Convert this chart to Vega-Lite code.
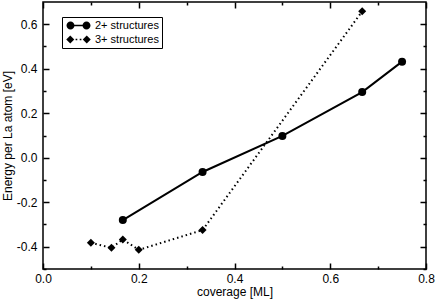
{
  "$schema": "https://vega.github.io/schema/vega-lite/v6.json",
  "width": 383,
  "height": 267,
  "autosize": {"type": "none"},
  "padding": {"left": 43, "top": 2, "right": 10, "bottom": 32},
  "background": "white",
  "data": {"values": [
    {"series": "2+ structures", "coverage": 0.1667, "energy": -0.28},
    {"series": "2+ structures", "coverage": 0.3333, "energy": -0.064},
    {"series": "2+ structures", "coverage": 0.5, "energy": 0.098},
    {"series": "2+ structures", "coverage": 0.6667, "energy": 0.295},
    {"series": "2+ structures", "coverage": 0.75, "energy": 0.432},
    {"series": "3+ structures", "coverage": 0.1, "energy": -0.382},
    {"series": "3+ structures", "coverage": 0.1429, "energy": -0.405},
    {"series": "3+ structures", "coverage": 0.1667, "energy": -0.367},
    {"series": "3+ structures", "coverage": 0.2, "energy": -0.414},
    {"series": "3+ structures", "coverage": 0.3333, "energy": -0.325},
    {"series": "3+ structures", "coverage": 0.6667, "energy": 0.658}
  ]},
  "config": {
    "font": "Liberation Sans",
    "view": {"stroke": "#000", "strokeWidth": 1.5},
    "axis": {
      "grid": false,
      "domain": false,
      "tickColor": "#000",
      "tickWidth": 1.5,
      "labelColor": "#000",
      "labelFontSize": 12,
      "labelFont": "Liberation Sans",
      "titleFont": "Liberation Sans",
      "titleFontSize": 12,
      "titleFontWeight": "normal",
      "titleColor": "#000"
    }
  },
  "layer": [
    {
      "transform": [{"filter": "datum.series === '2+ structures'"}],
      "mark": {"type": "line", "color": "#000", "strokeWidth": 2},
      "encoding": {
        "x": {"field": "coverage", "type": "quantitative", "scale": {"domain": [0, 0.8], "nice": false, "zero": false},
          "axis": {"orient": "bottom", "values": [0, 0.2, 0.4, 0.6, 0.8], "tickSize": -6, "labelPadding": 10,
            "labelExpr": "format(datum.value, '.1f')", "title": "coverage [ML]", "titlePadding": 2, "labelFlush": false}},
        "y": {"field": "energy", "type": "quantitative", "scale": {"domain": [-0.5, 0.7], "nice": false, "zero": false},
          "axis": {"orient": "left", "values": [-0.4, -0.2, 0, 0.2, 0.4, 0.6], "tickSize": -6, "labelPadding": 12,
            "labelExpr": "replace(format(datum.value, '.1f'), '\u2212', '-')", "title": "Energy per La atom [eV]", "titlePadding": 2}}
      }
    },
    {
      "transform": [{"filter": "datum.series === '3+ structures'"}],
      "mark": {"type": "line", "color": "#000", "strokeWidth": 2, "strokeDash": [1.5, 3]},
      "encoding": {
        "x": {"field": "coverage", "type": "quantitative",
          "axis": {"orient": "top", "values": [0, 0.2, 0.4, 0.6, 0.8], "tickSize": -6, "labels": false, "title": null}},
        "y": {"field": "energy", "type": "quantitative",
          "axis": {"orient": "right", "values": [-0.4, -0.2, 0, 0.2, 0.4, 0.6], "tickSize": -6, "labels": false, "title": null}}
      }
    },
    {
      "mark": {"type": "point", "filled": true, "color": "#000", "opacity": 1, "size": 64},
      "encoding": {
        "x": {"field": "coverage", "type": "quantitative",
          "axis": {"orient": "bottom", "values": [0.1, 0.3, 0.5, 0.7], "tickSize": -3, "labels": false, "title": null}},
        "y": {"field": "energy", "type": "quantitative",
          "axis": {"orient": "left", "values": [-0.5, -0.3, -0.1, 0.1, 0.3, 0.5], "tickSize": -3, "labels": false, "title": null}},
        "shape": {"field": "series", "type": "nominal", "scale": {"range": ["circle", "diamond"]}, "legend": null}
      }
    },
    {
      "transform": [{"filter": "false"}],
      "mark": {"type": "point", "filled": true, "color": "#000", "opacity": 1},
      "encoding": {
        "x": {"field": "coverage", "type": "quantitative",
          "axis": {"orient": "top", "values": [0.1, 0.3, 0.5, 0.7], "tickSize": -3, "labels": false, "title": null}},
        "y": {"field": "energy", "type": "quantitative",
          "axis": {"orient": "right", "values": [-0.5, -0.3, -0.1, 0.1, 0.3, 0.5], "tickSize": -3, "labels": false, "title": null}},
        "shape": {"field": "series", "type": "nominal",
          "scale": {"domain": ["2+ structures", "3+ structures"],
            "range": [
              "M-0.9,-0.16L-0.9,0.16L0.9,0.16L0.9,-0.16ZM-2.4,0a0.8,0.8 0 1,0 1.6,0a0.8,0.8 0 1,0 -1.6,0M0.8,0a0.8,0.8 0 1,0 1.6,0a0.8,0.8 0 1,0 -1.6,0",
              "M-2.45,0L-1.65,-0.8L-0.85,0L-1.65,0.8ZM0.85,0L1.65,-0.8L2.45,0L1.65,0.8ZM-0.58,-0.17h0.34v0.34h-0.34ZM0.24,-0.17h0.34v0.34h-0.34Z"
            ]},
          "legend": {"orient": "none", "legendX": 19, "legendY": 15, "title": null,
            "strokeColor": "#000", "fillColor": "#fff", "padding": 3,
            "symbolSize": 100, "symbolOffset": 8, "labelOffset": 11, "labelFontSize": 11, "labelColor": "#000",
            "rowPadding": 2, "symbolStrokeWidth": 0, "symbolFillColor": "#000"}}
      }
    }
  ],
  "resolve": {"axis": {"x": "independent", "y": "independent"}, "scale": {"shape": "independent"}}
}
